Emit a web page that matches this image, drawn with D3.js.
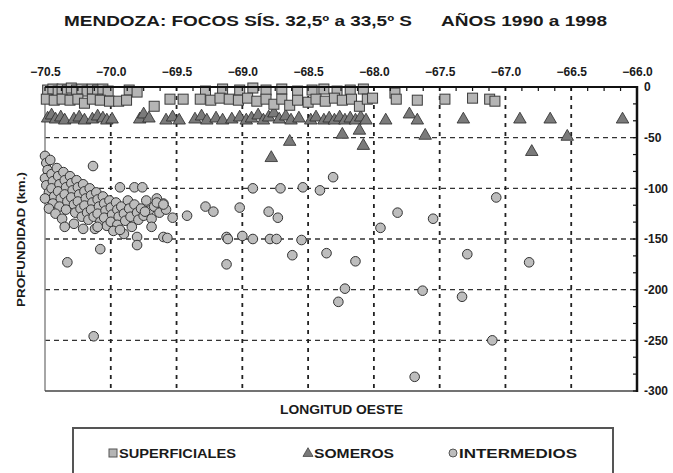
<!DOCTYPE html>
<html><head><meta charset="utf-8">
<script src="https://cdn.jsdelivr.net/npm/d3@7"></script>
<style>
body{margin:0;background:#fff;}
text{font-family:"Liberation Sans",Arial,sans-serif;font-weight:bold;fill:#1a1a1a;}
</style></head>
<body><svg id="c" width="673" height="473"></svg>
<script>
const lonTicks=[-70.5,-70.0,-69.5,-69.0,-68.5,-68.0,-67.5,-67.0,-66.5,-66.0];
const depthTicks=[0,-50,-100,-150,-200,-250,-300];
const seriesNames=["SUPERFICIALES","SOMEROS","INTERMEDIOS"];
const titleParts=["MENDOZA: FOCOS SÍS. 32,5º a 33,5º S","AÑOS 1990 a 1998"];

const superficiales=[
[-70.48,-3],[-70.44,-2],[-70.40,-4],[-70.37,-2],[-70.33,-3],[-70.30,-1],[-70.26,-3],[-70.22,-2],[-70.18,-4],[-70.14,-2],[-70.10,-3],[-70.06,-2],[-70.02,-4],[-69.86,-3],[-69.80,-5],
[-70.49,-12],[-70.43,-13],[-70.37,-12],[-70.31,-13],[-70.25,-12],[-70.20,-16],[-70.14,-12],[-70.08,-13],[-70.01,-14],[-69.94,-14],[-69.88,-13],
[-69.67,-19],[-69.55,-12],[-69.45,-12],
[-69.28,-4],[-69.15,-2],[-69.02,-3],[-68.92,-1],[-68.82,-3],[-68.70,-2],[-68.58,-4],[-68.47,-3],[-68.38,-2],[-68.28,-4],[-68.18,-3],[-68.08,-2],
[-69.32,-12],[-69.24,-13],[-69.17,-11],[-69.10,-12],[-69.03,-13],[-68.96,-11],[-68.89,-14],[-68.82,-12],[-68.76,-17],[-68.70,-12],[-68.64,-18],[-68.58,-13],[-68.50,-15],[-68.44,-12],[-68.37,-14],[-68.30,-11],[-68.24,-13],[-68.17,-12],[-68.11,-19],[-68.05,-12],[-68.01,-11],
[-67.84,-6],[-67.83,-12],[-67.67,-13],[-67.46,-12],[-67.25,-11],[-67.12,-12],[-67.08,-14]
];

const someros=[
[-70.48,-31],[-70.45,-28],[-70.42,-32],[-70.38,-30],[-70.35,-33],[-70.28,-32],[-70.24,-30],[-70.20,-33],[-70.14,-32],[-70.10,-29],[-70.06,-31],[-70.03,-33],[-69.99,-32],
[-69.78,-32],[-69.75,-27],[-69.71,-31],[-69.58,-33],[-69.53,-30],[-69.48,-33],
[-69.36,-32],[-69.31,-29],[-69.27,-33],[-69.20,-31],[-69.15,-33],[-69.08,-32],[-69.02,-30],[-68.97,-33],[-68.93,-31],[-68.88,-28],[-68.84,-33],[-68.80,-30],[-68.76,-26],[-68.72,-32],[-68.67,-29],[-68.63,-33],[-68.57,-31],
[-68.48,-33],[-68.44,-30],[-68.38,-33],[-68.34,-31],[-68.30,-33],[-68.26,-30],[-68.22,-33],[-68.18,-31],[-68.14,-33],[-68.10,-30],[-68.06,-33],
[-67.91,-33],[-67.73,-27],[-67.67,-33],[-67.32,-32],[-66.89,-32],[-66.66,-32],[-66.11,-32],
[-68.24,-47],[-68.11,-43],[-68.08,-58],[-67.61,-48],[-66.53,-49],[-66.80,-64],[-68.64,-54],[-68.78,-70]
];

const intermedios=[
[-70.50,-68],[-70.49,-75],[-70.48,-82],[-70.50,-90],[-70.49,-97],[-70.47,-104],[-70.50,-110],[-70.46,-72],[-70.45,-86],[-70.44,-93],[-70.45,-100],[-70.43,-108],[-70.44,-115],
[-70.41,-80],[-70.40,-88],[-70.39,-96],[-70.40,-103],[-70.38,-110],[-70.39,-118],[-70.36,-84],[-70.35,-92],[-70.34,-99],[-70.35,-106],[-70.33,-113],[-70.34,-121],
[-70.31,-88],[-70.30,-95],[-70.29,-102],[-70.30,-109],[-70.28,-116],[-70.27,-124],[-70.26,-92],[-70.25,-99],[-70.24,-106],[-70.25,-113],[-70.23,-120],[-70.22,-128],
[-70.21,-96],[-70.20,-103],[-70.19,-110],[-70.20,-117],[-70.18,-124],[-70.17,-131],[-70.16,-100],[-70.15,-107],[-70.14,-114],[-70.15,-121],[-70.13,-128],
[-70.11,-104],[-70.10,-111],[-70.09,-118],[-70.10,-125],[-70.08,-133],[-70.06,-108],[-70.05,-115],[-70.04,-122],[-70.05,-129],[-70.03,-137],
[-70.01,-112],[-70.00,-119],[-69.99,-126],[-70.00,-133],[-69.96,-114],[-69.95,-121],[-69.94,-128],[-69.95,-136],[-69.92,-118],[-69.90,-125],[-69.89,-132],
[-69.87,-112],[-69.86,-120],[-69.85,-128],[-69.84,-138],[-69.82,-116],[-69.80,-124],[-69.79,-131],[-69.77,-120],[-69.75,-127],[-69.73,-112],[-69.71,-122],[-69.69,-130],
[-69.67,-118],[-69.65,-110],[-69.63,-124],[-69.60,-115],[-69.58,-121],[-70.47,-120],[-70.42,-125],[-70.37,-130],[-70.28,-135],[-70.21,-140],[-70.12,-140],[-69.98,-142],[-69.90,-145],
[-70.135,-78],[-69.93,-99],[-69.82,-99],[-69.76,-99],[-69.65,-114],[-69.60,-116],[-69.74,-123],[-69.53,-129],[-69.42,-127],[-69.28,-118],[-69.22,-123],[-69.02,-119],
[-68.92,-100],[-68.71,-100],[-68.54,-99],[-68.41,-102],[-68.31,-89],[-68.80,-123],[-68.73,-129],[-70.35,-138],[-70.10,-138],[-69.93,-141],[-69.80,-148],[-69.80,-156],
[-69.69,-138],[-69.60,-148],[-69.57,-149],[-69.12,-148],[-69.11,-150],[-69.00,-147],[-68.92,-150],[-68.79,-150],[-68.74,-150],[-68.55,-151],[-70.08,-160],[-68.62,-166],
[-68.36,-164],[-70.33,-173],[-69.12,-175],[-68.22,-199],[-68.27,-212],[-70.13,-246],[-67.82,-124],[-67.55,-130],[-67.95,-139],[-67.07,-109],[-68.14,-172],[-67.29,-165],
[-66.82,-173],[-67.63,-201],[-67.33,-207],[-67.10,-250],[-67.69,-286]
];

const svg=d3.select("#c");
const x=d3.scaleLinear().domain([-70.5,-66.0]).range([45,637]);
const y=d3.scaleLinear().domain([0,-300]).range([87,391]);

// title
const tX=[64,441], tL=[348,166];
svg.selectAll("text.title").data(titleParts).enter().append("text").attr("class","title")
  .attr("x",(d,i)=>tX[i]).attr("y",26).attr("textLength",(d,i)=>tL[i]).attr("lengthAdjust","spacingAndGlyphs")
  .style("font-size","14.5px").text(d=>d);

// grid
const g=svg.append("g");
g.selectAll("line.h").data(depthTicks.slice(1,-1)).enter().append("line")
  .attr("x1",45).attr("x2",637).attr("y1",d=>y(d)).attr("y2",d=>y(d))
  .attr("stroke","#333").attr("stroke-width",1.3).attr("stroke-dasharray","5,4");
g.selectAll("line.v").data(lonTicks.slice(1,-1)).enter().append("line")
  .attr("y1",87).attr("y2",391).attr("x1",d=>x(d)).attr("x2",d=>x(d))
  .attr("stroke","#222").attr("stroke-width",1.8).attr("stroke-dasharray","4,5");

// left & bottom frame
svg.append("line").attr("x1",45).attr("x2",45).attr("y1",87).attr("y2",391).attr("stroke","#888").attr("stroke-width",1.5);
svg.append("line").attr("x1",45).attr("x2",637).attr("y1",391).attr("y2",391).attr("stroke","#444").attr("stroke-width",1.5);

// points
svg.append("g").selectAll("circle").data(intermedios).enter().append("circle")
  .attr("cx",d=>x(d[0])).attr("cy",d=>y(d[1])).attr("r",4.8)
  .attr("fill","#bdbdbd").attr("stroke","#333").attr("stroke-width",1);
const tri=d3.symbol().type(d3.symbolTriangle).size(68);
svg.append("g").selectAll("path").data(someros).enter().append("path")
  .attr("d",tri).attr("transform",d=>`translate(${x(d[0])},${y(d[1])})`)
  .attr("fill","#7a7a7a").attr("stroke","#2a2a2a").attr("stroke-width",0.8);
svg.append("g").selectAll("rect").data(superficiales).enter().append("rect")
  .attr("x",d=>x(d[0])-5).attr("y",d=>y(d[1])-5).attr("width",10).attr("height",10)
  .attr("fill","#b5b5b5").attr("stroke","#3a3a3a").attr("stroke-width",1);

// top axis
const topAxis=svg.append("g").attr("transform","translate(0,87)");
topAxis.call(d3.axisTop(x).tickValues(lonTicks).tickSize(0).tickFormat(d3.format(".1f")));
topAxis.select(".domain").remove();
topAxis.selectAll("text").attr("y",-11).style("font-size","12px").attr("fill","#1a1a1a");
const minorX=d3.range(0,37).map(i=>-70.5+i*0.125);
svg.append("g").selectAll("line").data(minorX).enter().append("line")
  .attr("x1",d=>x(d)).attr("x2",d=>x(d)).attr("y1",87).attr("y2",91).attr("stroke","#111").attr("stroke-width",1.2);
svg.append("line").attr("x1",45).attr("x2",638).attr("y1",87).attr("y2",87).attr("stroke","#111").attr("stroke-width",2);

// right axis
const rightAxis=svg.append("g").attr("transform","translate(637,0)");
rightAxis.call(d3.axisRight(y).tickValues(depthTicks).tickSize(0).tickFormat(d=>d));
rightAxis.select(".domain").remove();
rightAxis.selectAll("text").attr("x",7).style("font-size","12px").attr("fill","#1a1a1a");
const minorY=d3.range(0,19).map(i=>-i*50/3);
svg.append("g").selectAll("line").data(minorY).enter().append("line")
  .attr("x1",633).attr("x2",637).attr("y1",d=>y(d)).attr("y2",d=>y(d)).attr("stroke","#111").attr("stroke-width",1.2);
svg.append("line").attr("x1",637).attr("x2",637).attr("y1",86).attr("y2",392).attr("stroke","#111").attr("stroke-width",2.5);

// axis titles
svg.append("text").attr("x",280).attr("y",414).attr("textLength",123).attr("lengthAdjust","spacingAndGlyphs").style("font-size","12px").text("LONGITUD OESTE");
svg.append("text").attr("transform","translate(25,307) rotate(-90)").attr("textLength",135).attr("lengthAdjust","spacingAndGlyphs").style("font-size","10px").text("PROFUNDIDAD (km.)");

// legend
svg.append("rect").attr("x",73).attr("y",428).attr("width",540).attr("height",48).attr("fill","none").attr("stroke","#555").attr("stroke-width",2);
const lg=svg.append("g");
const lx=[113,308,453], lw=[117,80,118];
lg.append("rect").attr("x",lx[0]-4).attr("y",449).attr("width",8).attr("height",8).attr("fill","#b5b5b5").attr("stroke","#555");
lg.append("path").attr("d",d3.symbol().type(d3.symbolTriangle).size(44)).attr("transform",`translate(${lx[1]},453.5)`).attr("fill","#7a7a7a").attr("stroke","#333").attr("stroke-width",0.7);
lg.append("circle").attr("cx",lx[2]).attr("cy",453).attr("r",4).attr("fill","#bdbdbd").attr("stroke","#555");
lg.selectAll("text").data(seriesNames).enter().append("text")
  .attr("x",(d,i)=>lx[i]+6).attr("y",458).attr("textLength",(d,i)=>lw[i]).attr("lengthAdjust","spacingAndGlyphs")
  .style("font-size","12px").text(d=>d);
</script></body></html>
